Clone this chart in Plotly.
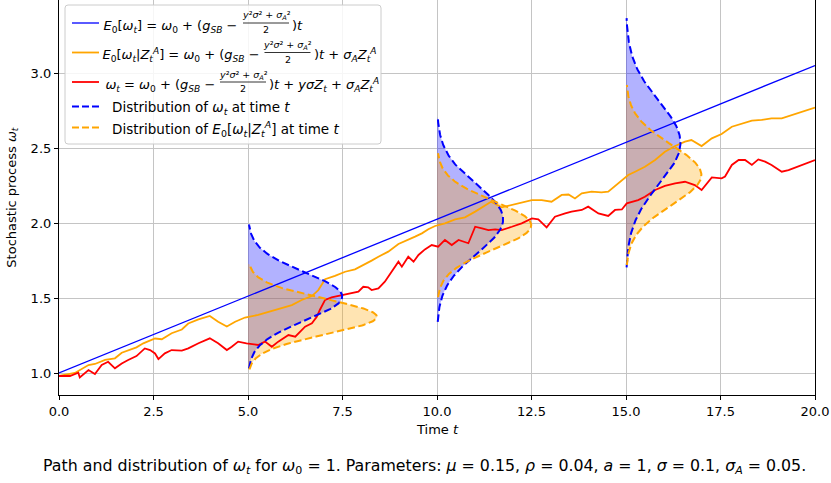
import numpy as np
import plotly.graph_objects as go

# ---------------- data ----------------
line_t = [0.0, 20.0]
line_v = [1.0, 3.05]

orange_t = [0, 0.42, 0.78, 0.95, 1.22, 1.48, 1.66, 1.83, 2.05, 2.23, 2.45, 2.54, 2.72, 2.98, 3.25, 3.42,
            3.69, 3.86, 3.99, 4.21, 4.44, 4.66, 4.92, 5.27, 5.63, 5.89, 6.16, 6.42, 6.69, 6.86, 7.04, 7.3,
            7.57, 7.83, 8.01, 8.27, 8.45, 8.71, 8.98, 9.24, 9.42, 9.6, 9.77, 9.95, 10.21, 10.48, 10.74,
            11.01, 11.27, 11.43, 11.71, 11.98, 12.24, 12.51, 12.77, 13.03, 13.3, 13.48, 13.65, 13.83,
            14.09, 14.35, 14.53, 14.71, 14.89, 15.06, 15.24, 15.5, 15.77, 16.03, 16.3, 16.56, 16.73, 17.0,
            17.27, 17.53, 17.8, 18.06, 18.33, 18.59, 18.85, 19.12, 19.38, 19.65, 19.91, 20.0]
orange_v = [0.98, 1.0, 1.053, 1.06, 1.087, 1.098, 1.135, 1.149, 1.171, 1.198, 1.22, 1.23, 1.225, 1.265,
            1.29, 1.33, 1.358, 1.37, 1.38, 1.342, 1.31, 1.342, 1.37, 1.387, 1.415, 1.431, 1.453, 1.487,
            1.513, 1.553, 1.625, 1.647, 1.675, 1.691, 1.713, 1.749, 1.775, 1.809, 1.86, 1.887, 1.909,
            1.931, 1.958, 1.98, 1.998, 2.024, 2.038, 2.076, 2.12, 2.142, 2.104, 2.12, 2.136, 2.153, 2.153,
            2.142, 2.187, 2.19, 2.164, 2.198, 2.209, 2.204, 2.209, 2.247, 2.287, 2.32, 2.342, 2.375, 2.42,
            2.475, 2.513, 2.542, 2.553, 2.513, 2.564, 2.593, 2.642, 2.664, 2.682, 2.687, 2.698, 2.698,
            2.72, 2.742, 2.764, 2.77]

red_t = [0, 0.29, 0.51, 0.55, 0.78, 0.95, 1.13, 1.3, 1.48, 1.66, 1.83, 2.05, 2.27, 2.41, 2.54, 2.63, 2.8,
         2.98, 3.25, 3.42, 3.69, 3.99, 4.21, 4.44, 4.57, 4.74, 4.96, 5.27, 5.45, 5.63, 5.8, 6.07, 6.25,
         6.51, 6.69, 6.82, 6.9, 7.04, 7.21, 7.48, 7.74, 7.92, 8.05, 8.18, 8.27, 8.45, 8.62, 8.8, 8.98,
         9.07, 9.24, 9.38, 9.51, 9.68, 9.86, 10.03, 10.21, 10.39, 10.57, 10.83, 11.01, 11.19, 11.36,
         11.54, 11.71, 11.98, 12.24, 12.51, 12.68, 12.9, 13.12, 13.39, 13.56, 13.83, 14.0, 14.27, 14.53,
         14.71, 14.89, 15.02, 15.32, 15.5, 15.77, 16.03, 16.3, 16.56, 16.82, 17.0, 17.27, 17.53, 17.62,
         17.8, 17.98, 18.15, 18.33, 18.5, 18.68, 18.85, 19.12, 19.3, 19.47, 19.65, 19.91, 20.0]
red_v = [0.98, 0.98, 1.002, 0.97, 1.02, 0.993, 1.053, 1.075, 1.031, 1.064, 1.087, 1.113, 1.164, 1.153,
         1.13, 1.093, 1.131, 1.153, 1.149, 1.164, 1.198, 1.231, 1.198, 1.153, 1.175, 1.209, 1.198, 1.187,
         1.209, 1.175, 1.209, 1.253, 1.242, 1.309, 1.331, 1.375, 1.42, 1.487, 1.504, 1.52, 1.535, 1.542,
         1.575, 1.571, 1.553, 1.564, 1.609, 1.675, 1.742, 1.709, 1.775, 1.742, 1.787, 1.824, 1.853, 1.842,
         1.887, 1.853, 1.887, 1.865, 1.975, 1.964, 1.953, 1.958, 1.953, 1.975, 1.998, 2.031, 2.024, 1.971,
         2.042, 2.064, 2.076, 2.087, 2.109, 2.064, 2.047, 2.087, 2.09, 2.131, 2.153, 2.175, 2.22, 2.247,
         2.264, 2.275, 2.253, 2.22, 2.304, 2.298, 2.31, 2.387, 2.42, 2.42, 2.387, 2.424, 2.409, 2.387,
         2.342, 2.353, 2.37, 2.387, 2.409, 2.42]

dist_times = [5, 10, 15]
blue_mean = [1.51, 2.025, 2.535]
blue_std = [0.16, 0.228, 0.277]
orange_mean = [1.375, 1.985, 2.32]
orange_std = [0.117, 0.16, 0.2]

x_ticks = [0, 2.5, 5, 7.5, 10, 12.5, 15, 17.5, 20]
y_ticks = [1.0, 1.5, 2.0, 2.5, 3.0]

n_o = min(len(orange_t), len(orange_v))
n_r = min(len(red_t), len(red_v))

# ---------------- styles ----------------
BLUE = "#0000ff"
ORANGE = "#ffa500"
RED = "#ff0000"
FONT = "DejaVu Sans"
W, H = 831, 483
ML, MR, MT, MB = 59, 16, 0, 88
PW, PH = W - ML - MR, H - MT - MB


def px(x):
    return (x - ML) / PW


def py(y):
    return (PH + MT - y) / PH


fig = go.Figure()


def density(t0, m, s):
    ys = np.linspace(m - 3 * s, m + 3 * s, 200)
    xs = t0 + np.exp(-0.5 * ((ys - m) / s) ** 2) / (s * np.sqrt(2 * np.pi))
    return xs, ys


# fills first
for i, t0 in enumerate(dist_times):
    for m, s, col in [(blue_mean[i], blue_std[i], "rgba(0,0,255,0.3)"),
                      (orange_mean[i], orange_std[i], "rgba(255,165,0,0.3)")]:
        xs, ys = density(t0, m, s)
        fig.add_trace(go.Scatter(
            x=list(xs) + [t0, t0], y=list(ys) + [ys[-1], ys[0]],
            mode="lines", fill="toself", fillcolor=col, line=dict(width=0),
            showlegend=False, hoverinfo="skip"))

fig.add_trace(go.Scatter(x=line_t, y=line_v, mode="lines", showlegend=False,
                         line=dict(color=BLUE, width=1.3)))
fig.add_trace(go.Scatter(x=orange_t[:n_o], y=orange_v[:n_o], mode="lines", showlegend=False,
                         line=dict(color=ORANGE, width=1.8)))
fig.add_trace(go.Scatter(x=red_t[:n_r], y=red_v[:n_r], mode="lines", showlegend=False,
                         line=dict(color=RED, width=1.8)))

DASH = "7.5px,3.5px"
for i, t0 in enumerate(dist_times):
    xs, ys = density(t0, blue_mean[i], blue_std[i])
    fig.add_trace(go.Scatter(x=xs, y=ys, mode="lines", showlegend=False,
                             line=dict(color=BLUE, width=2, dash=DASH)))
for i, t0 in enumerate(dist_times):
    xs, ys = density(t0, orange_mean[i], orange_std[i])
    fig.add_trace(go.Scatter(x=xs, y=ys, mode="lines", showlegend=False,
                             line=dict(color=ORANGE, width=2, dash=DASH)))

# ---------------- hand-built legend (stacked fractions) ----------------
shapes = []
annotations = []

bx0, bx1, by0, by1, r = 65, 381, 5, 144, 3
rx, ry = r / PW, r / PH
X0, X1, Y0, Y1 = px(bx0), px(bx1), py(by1), py(by0)
path = (f"M {X0+rx},{Y0} L {X1-rx},{Y0} Q {X1},{Y0} {X1},{Y0+ry} L {X1},{Y1-ry} "
        f"Q {X1},{Y1} {X1-rx},{Y1} L {X0+rx},{Y1} Q {X0},{Y1} {X0},{Y1-ry} L {X0},{Y0+ry} "
        f"Q {X0},{Y0} {X0+rx},{Y0} Z")
shapes.append(dict(type="path", path=path, xref="paper", yref="paper", layer="above",
                   fillcolor="rgba(255,255,255,0.85)", line=dict(color="#cccccc", width=1)))

rows_y = [23, 52.5, 82, 106.5, 127.5]
sym_styles = [(BLUE, 1.3, "solid"), (ORANGE, 1.8, "solid"), (RED, 1.8, "solid"),
              (BLUE, 2, "7px,3px"), (ORANGE, 2, "7px,3px")]
for yy, (c, w, d) in zip(rows_y, sym_styles):
    shapes.append(dict(type="line", xref="paper", yref="paper", layer="above",
                       x0=px(72), x1=px(99), y0=py(yy), y1=py(yy),
                       line=dict(color=c, width=w, dash=d)))


def inv(s):
    return f'<span style="color:rgba(0,0,0,0)">{s}</span>'


# invisible sub/sup padding so every piece has the same text box height
PAD = "<sup>" + inv("A") + "</sup><sub>" + inv("A") + "</sub>"
ZA = "<i>Z</i><sub><i>t</i></sub><sup><i>A</i></sup>"
G = "(<i>g</i><sub><i>SB</i></sub> −"
left_pieces = [
    PAD + "<i>E</i><sub>0</sub>[<i>ω</i><sub><i>t</i></sub>] = <i>ω</i><sub>0</sub> + " + G,
    PAD + "<i>E</i><sub>0</sub>[<i>ω</i><sub><i>t</i></sub>|" + ZA + "] = <i>ω</i><sub>0</sub> + " + G,
    PAD + "<i>ω</i><sub><i>t</i></sub> = <i>ω</i><sub>0</sub> + " + G,
]
right_pieces = [
    ")<i>t</i>" + PAD,
    ")<i>t</i> + <i>σ</i><sub><i>A</i></sub>" + ZA + PAD,
    ")<i>t</i> + <i>yσZ</i><sub><i>t</i></sub> + <i>σ</i><sub><i>A</i></sub>" + ZA + PAD,
]
frac_cx = [266, 287.5, 243]
FS = 13
SH = 2.5
num_txt = "<i>y</i>²<i>σ</i>² + <i>σ</i><sub><i>A</i></sub>²"
for cx, yy, lt, rt in zip(frac_cx, rows_y[:3], left_pieces, right_pieces):
    annotations.append(dict(text=lt, x=px(cx - 26), y=py(yy + SH), xref="paper", yref="paper",
                            showarrow=False, xanchor="right", yanchor="middle",
                            font=dict(family=FONT, size=FS, color="black")))
    annotations.append(dict(text=rt, x=px(cx + 24), y=py(yy + SH), xref="paper", yref="paper",
                            showarrow=False, xanchor="left", yanchor="middle",
                            font=dict(family=FONT, size=FS, color="black")))
    annotations.append(dict(text=num_txt, x=px(cx), y=py(yy - 7), xref="paper", yref="paper",
                            showarrow=False, xanchor="center", yanchor="middle",
                            font=dict(family=FONT, size=9.5, color="black")))
    annotations.append(dict(text="2", x=px(cx), y=py(yy + 7), xref="paper", yref="paper",
                            showarrow=False, xanchor="center", yanchor="middle",
                            font=dict(family=FONT, size=9.5, color="black")))
    shapes.append(dict(type="line", xref="paper", yref="paper", layer="above",
                       x0=px(cx - 23), x1=px(cx + 23), y0=py(yy), y1=py(yy),
                       line=dict(color="black", width=0.8)))

dist_texts = [
    "Distribution of <i>ω</i><sub><i>t</i></sub> at time <i>t</i>",
    "Distribution of <i>E</i><sub>0</sub>[<i>ω</i><sub><i>t</i></sub>|" + ZA + "] at time <i>t</i>",
]
for yy, txt in zip(rows_y[3:], dist_texts):
    annotations.append(dict(text=txt, x=px(110), y=py(yy + 1.5), xref="paper", yref="paper",
                            showarrow=False, xanchor="left", yanchor="middle",
                            font=dict(family=FONT, size=13.5, color="black")))

annotations += [
    dict(text="Time <i>t</i>", x=0.5, y=-0.0886, xref="paper", yref="paper",
         showarrow=False, xanchor="center", yanchor="middle", font=dict(family=FONT, size=13)),
    dict(text="Stochastic process <i>ω</i><sub><i>t</i></sub>", x=-0.062, y=0.5, xref="paper",
         yref="paper", showarrow=False, textangle=-90, xanchor="center", yanchor="middle",
         font=dict(family=FONT, size=13)),
    dict(text=("Path and distribution of <i>ω</i><sub><i>t</i></sub> for <i>ω</i><sub>0</sub> = 1. "
               "Parameters: <i>μ</i> = 0.15, <i>ρ</i> = 0.04, <i>a</i> = 1, <i>σ</i> = 0.1, "
               "<i>σ</i><sub><i>A</i></sub> = 0.05."),
         x=0.483, y=-0.18, xref="paper", yref="paper", showarrow=False,
         xanchor="center", yanchor="middle", font=dict(family=FONT, size=15.8)),
]

axis_common = dict(showgrid=True, gridcolor="#c4c4c4", gridwidth=1, zeroline=False,
                   showline=True, linecolor="black", linewidth=1.2,
                   ticks="outside", ticklen=4, tickcolor="black", tickwidth=1,
                   tickfont=dict(family=FONT, size=13, color="black"))

fig.update_layout(
    width=W, height=H,
    margin=dict(l=ML, r=MR, t=MT, b=MB),
    plot_bgcolor="white", paper_bgcolor="white",
    font=dict(family=FONT, size=13, color="black"),
    xaxis=dict(range=[0, 20], tickvals=x_ticks, ticktext=[f"{v:.1f}" for v in x_ticks], **axis_common),
    yaxis=dict(range=[0.8533, 3.4867], tickvals=y_ticks, ticktext=[f"{v:.1f}" for v in y_ticks],
               mirror=True, **axis_common),
    showlegend=False,
    shapes=shapes,
    annotations=annotations,
)

fig.write_html("out.html")
